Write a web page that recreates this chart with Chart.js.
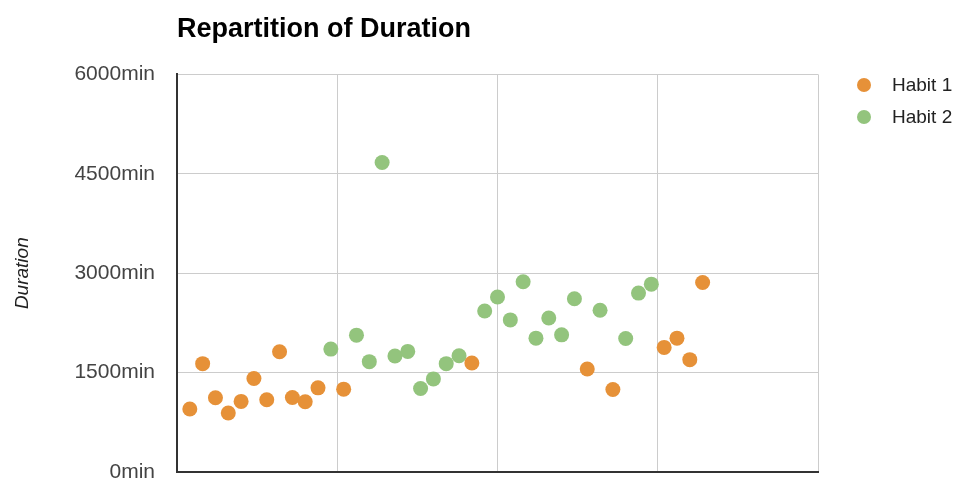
<!DOCTYPE html>
<html lang="en">
<head>
    <meta charset="UTF-8">
    <title>Repartition of Duration</title>
    <script src="https://cdn.jsdelivr.net/npm/chart.js"></script>
    <style>
        body {
            margin: 0;
            background: #fff;
            font-family: Arial, "Liberation Sans", sans-serif;
        }
        .wrap {
            position: relative;
            width: 962px;
            height: 481px;
        }
        .legend {
            position: absolute;
            left: 855px;
            top: 71px;
        }
        .legend div {
            height: 32px;
            line-height: 28px;
            font-size: 19px;
            color: #222;
            white-space: nowrap;
        }
        .legend span {
            display: inline-block;
            width: 14px;
            height: 14px;
            border-radius: 50%;
            margin: 0 21px 0 2px;
            vertical-align: -1px;
        }
    </style>
</head>
<body>
<div class="wrap">
    <canvas id="chart"></canvas>
    <div class="legend" id="legend"></div>
</div>
<script>
    // day index of each record (x), duration in minutes (y)
    const habit1Days = [1, 2, 3, 4, 5, 6, 7, 8, 9, 10, 11, 13, 23, 32, 34, 38, 39, 40, 41];
    const habit1Minutes = [950, 1635, 1120, 890, 1065, 1410, 1090, 1815, 1125, 1060, 1270, 1250, 1645, 1555, 1245, 1880, 2020, 1695, 2860];
    const habit2Days = [12, 14, 15, 16, 17, 18, 19, 20, 21, 22, 24, 25, 26, 27, 28, 29, 30, 31, 33, 35, 36, 37];
    const habit2Minutes = [1855, 2065, 1665, 4670, 1750, 1820, 1260, 1405, 1635, 1755, 2430, 2640, 2295, 2870, 2020, 2325, 2070, 2615, 2440, 2015, 2700, 2835];
    const yTicks = [0, 1500, 3000, 4500, 6000];

    const seriesNames = ['Habit 1', 'Habit 2'];
    const seriesColors = ['#e69138', '#93c47d'];

    function toPoints(xs, ys) {
        return xs.map((x, i) => ({ x: x, y: ys[i] }));
    }

    const chart = new Chart(document.getElementById('chart'), {
        type: 'scatter',
        data: {
            datasets: [
                {
                    label: seriesNames[0],
                    data: toPoints(habit1Days, habit1Minutes),
                    backgroundColor: seriesColors[0],
                    borderColor: seriesColors[0],
                    pointRadius: 7.5,
                    borderWidth: 0
                },
                {
                    label: seriesNames[1],
                    data: toPoints(habit2Days, habit2Minutes),
                    backgroundColor: seriesColors[1],
                    borderColor: seriesColors[1],
                    pointRadius: 7.5,
                    borderWidth: 0
                }
            ]
        },
        options: {
            responsive: true,
            maintainAspectRatio: false,
            animation: false,
            layout: {
                padding: { left: 0, right: 144, top: 0, bottom: 9 }
            },
            plugins: {
                legend: { display: false },
                tooltip: { enabled: false },
                title: {
                    display: true,
                    text: 'Repartition of Duration',
                    align: 'start',
                    fullSize: false,
                    color: '#000',
                    font: { family: 'Arial, "Liberation Sans"', size: 27, weight: 'bold' },
                    padding: { top: 13, bottom: 29 }
                }
            },
            scales: {
                x: {
                    type: 'linear',
                    min: 0,
                    max: 50,
                    afterFit: (scale) => { scale.height = 0; },
                    ticks: { display: false, stepSize: 12.5 },
                    grid: { color: '#cccccc', drawTicks: false },
                    border: { color: '#333333', width: 2 }
                },
                y: {
                    min: yTicks[0],
                    max: yTicks[yTicks.length - 1],
                    afterFit: (scale) => {
                        scale.width = 177;
                        scale.paddingTop = 0;
                        scale.paddingBottom = 0;
                    },
                    afterBuildTicks: (scale) => {
                        scale.ticks = yTicks.map(v => ({ value: v }));
                    },
                    ticks: {
                        padding: 22,
                        color: '#444',
                        font: { family: 'Arial, "Liberation Sans"', size: 21 },
                        callback: (v) => v + 'min'
                    },
                    grid: { color: '#cccccc', drawTicks: false },
                    border: { color: '#333333', width: 2 },
                    title: {
                        display: true,
                        text: 'Duration',
                        color: '#222',
                        font: { family: 'Arial, "Liberation Sans"', size: 19, style: 'italic' },
                        padding: { top: 11, bottom: 0 }
                    }
                }
            }
        }
    });

    // legend built from the chart's datasets
    const legendEl = document.getElementById('legend');
    chart.data.datasets.forEach(ds => {
        const row = document.createElement('div');
        const dot = document.createElement('span');
        dot.style.background = ds.backgroundColor;
        row.appendChild(dot);
        row.appendChild(document.createTextNode(ds.label));
        legendEl.appendChild(row);
    });
</script>
</body>
</html>
